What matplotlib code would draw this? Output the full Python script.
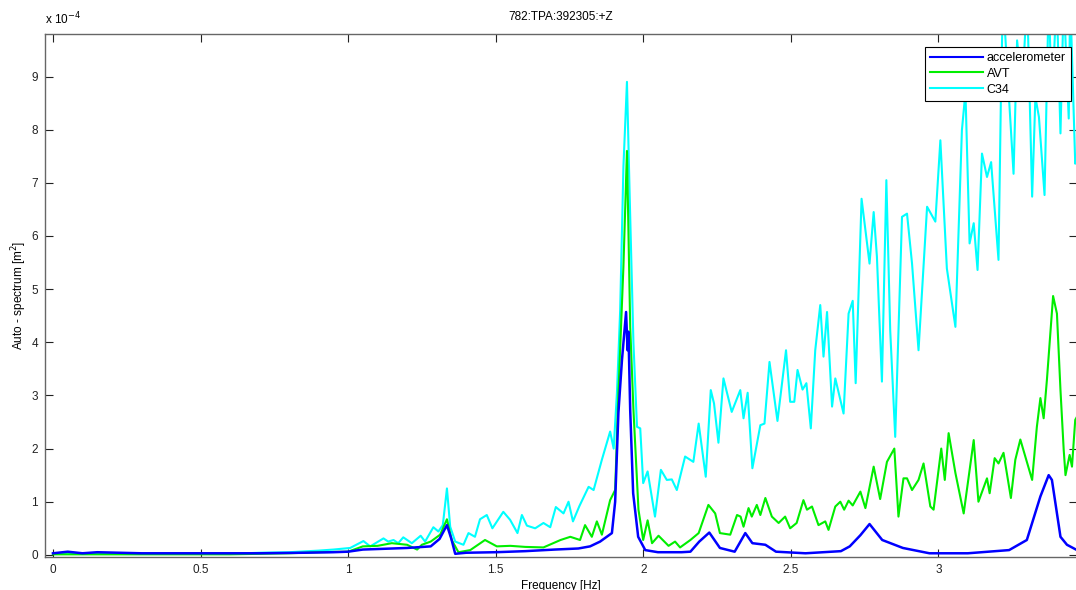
import numpy as np
import matplotlib.pyplot as plt

# values, y in units of 1e-4 m^2
acc_f = [0, 0.05, 0.1, 0.15, 0.3, 0.5, 0.7, 0.85, 0.95, 1.0,
         1.05, 1.1, 1.2, 1.28, 1.31, 1.335, 1.35, 1.363, 1.4, 1.5,
         1.6, 1.7, 1.78, 1.82, 1.854, 1.894, 1.905, 1.916, 1.928, 1.942,
         1.947, 1.95, 1.956, 1.966, 1.983, 2.007, 2.05, 2.13, 2.16, 2.19,
         2.224, 2.26, 2.31, 2.346, 2.37, 2.414, 2.45, 2.55, 2.67, 2.70,
         2.736, 2.767, 2.81, 2.88, 2.97, 3.1, 3.24, 3.30, 3.346, 3.374,
         3.385, 3.414, 3.436, 3.47]
acc_v = [0.03, 0.06, 0.03, 0.05, 0.03, 0.03, 0.03, 0.04, 0.05, 0.06,
         0.10, 0.11, 0.13, 0.16, 0.30, 0.56, 0.30, 0.02, 0.04, 0.05,
         0.07, 0.10, 0.12, 0.16, 0.25, 0.41, 1.0, 2.67, 3.66, 4.57,
         3.85, 4.2, 2.72, 1.16, 0.34, 0.09, 0.05, 0.05, 0.06, 0.25,
         0.42, 0.13, 0.06, 0.41, 0.22, 0.19, 0.06, 0.03, 0.07, 0.16,
         0.37, 0.58, 0.28, 0.13, 0.03, 0.03, 0.09, 0.28, 1.10, 1.50,
         1.41, 0.34, 0.19, 0.09]

avt_f = [0, 0.2, 0.4, 0.6, 0.7, 0.8, 0.9, 1.0, 1.05, 1.1,
         1.148, 1.2, 1.234, 1.25, 1.28, 1.312, 1.335, 1.351, 1.374, 1.414,
         1.464, 1.504, 1.55, 1.6, 1.662, 1.72, 1.753, 1.786, 1.803, 1.826,
         1.843, 1.86, 1.888, 1.905, 1.916, 1.933, 1.945, 1.956, 1.967, 1.984,
         2.0, 2.015, 2.03, 2.052, 2.086, 2.108, 2.125, 2.16, 2.188, 2.221,
         2.244, 2.26, 2.295, 2.318, 2.33, 2.34, 2.357, 2.368, 2.385, 2.397,
         2.414, 2.436, 2.459, 2.481, 2.498, 2.52, 2.543, 2.555, 2.572, 2.594,
         2.617, 2.628, 2.651, 2.668, 2.681, 2.696, 2.71, 2.736, 2.753, 2.781,
         2.803, 2.826, 2.851, 2.865, 2.882, 2.894, 2.911, 2.933, 2.95, 2.973,
         2.984, 3.01, 3.022, 3.035, 3.058, 3.086, 3.12, 3.136, 3.165, 3.174,
         3.191, 3.204, 3.221, 3.246, 3.261, 3.278, 3.318, 3.334, 3.346, 3.357,
         3.368, 3.389, 3.402, 3.414, 3.425, 3.431, 3.445, 3.453, 3.464, 3.47]
avt_v = [0.01, 0.01, 0.01, 0.01, 0.02, 0.03, 0.05, 0.06, 0.16, 0.17,
         0.22, 0.19, 0.10, 0.19, 0.25, 0.38, 0.67, 0.28, 0.05, 0.09,
         0.28, 0.16, 0.17, 0.15, 0.14, 0.28, 0.34, 0.28, 0.56, 0.34,
         0.63, 0.38, 1.03, 1.22, 3.04, 5.42, 7.6, 4.29, 2.73, 0.85,
         0.28, 0.65, 0.22, 0.36, 0.17, 0.25, 0.14, 0.28, 0.41, 0.94,
         0.78, 0.41, 0.38, 0.75, 0.72, 0.53, 0.88, 0.72, 0.94, 0.75,
         1.07, 0.72, 0.60, 0.72, 0.50, 0.60, 1.03, 0.85, 0.91, 0.56,
         0.63, 0.47, 0.91, 1.00, 0.85, 1.02, 0.93, 1.19, 0.88, 1.66,
         1.05, 1.75, 2.00, 0.72, 1.44, 1.44, 1.22, 1.41, 1.72, 0.91,
         0.85, 2.00, 1.41, 2.29, 1.54, 0.78, 2.16, 1.00, 1.44, 1.16,
         1.82, 1.72, 1.92, 1.07, 1.79, 2.17, 1.41, 2.41, 2.95, 2.57,
         3.29, 4.87, 4.54, 3.10, 1.97, 1.50, 1.88, 1.66, 2.54, 2.6]

c34_f = [0, 0.2, 0.4, 0.6, 0.7, 0.8, 0.9, 0.95, 1.007, 1.052,
         1.075, 1.12, 1.136, 1.154, 1.17, 1.187, 1.216, 1.246, 1.261, 1.289,
         1.306, 1.321, 1.335, 1.346, 1.363, 1.391, 1.408, 1.43, 1.447, 1.47,
         1.489, 1.526, 1.549, 1.574, 1.589, 1.606, 1.634, 1.662, 1.685, 1.704,
         1.73, 1.747, 1.762, 1.784, 1.815, 1.832, 1.86, 1.888, 1.9, 1.911,
         1.922, 1.933, 1.945, 1.954, 1.967, 1.979, 1.99, 2.0, 2.015, 2.04,
         2.06, 2.08, 2.097, 2.114, 2.142, 2.17, 2.188, 2.212, 2.229, 2.24,
         2.255, 2.272, 2.3, 2.329, 2.34, 2.354, 2.37, 2.397, 2.411, 2.428,
         2.455, 2.484, 2.498, 2.512, 2.523, 2.54, 2.553, 2.568, 2.583, 2.6,
         2.611, 2.623, 2.64, 2.651, 2.679, 2.696, 2.71, 2.72, 2.74, 2.767,
         2.781, 2.792, 2.809, 2.824, 2.837, 2.854, 2.877, 2.894, 2.911, 2.933,
         2.962, 2.99, 3.007, 3.029, 3.058, 3.08, 3.092, 3.106, 3.12, 3.133,
         3.148, 3.165, 3.179, 3.204, 3.212, 3.219, 3.238, 3.255, 3.267, 3.284,
         3.301, 3.318, 3.329, 3.341, 3.36, 3.374, 3.385, 3.401, 3.414, 3.425,
         3.442, 3.447, 3.464, 3.47]
c34_v = [0.02, 0.02, 0.02, 0.02, 0.04, 0.05, 0.08, 0.10, 0.13, 0.26,
         0.16, 0.31, 0.25, 0.28, 0.22, 0.33, 0.22, 0.36, 0.25, 0.52,
         0.44, 0.56, 1.25, 0.53, 0.25, 0.19, 0.41, 0.34, 0.67, 0.75,
         0.50, 0.81, 0.66, 0.41, 0.75, 0.55, 0.50, 0.60, 0.52, 0.90,
         0.78, 1.00, 0.63, 0.92, 1.28, 1.22, 1.79, 2.32, 2.00, 3.04,
         4.60, 7.30, 8.90, 6.80, 3.98, 2.41, 2.38, 1.35, 1.57, 0.72,
         1.60, 1.41, 1.42, 1.22, 1.85, 1.75, 2.47, 1.47, 3.10, 2.85,
         2.11, 3.32, 2.69, 3.10, 2.57, 3.05, 1.63, 2.44, 2.47, 3.63,
         2.52, 3.85, 2.88, 2.88, 3.48, 3.11, 3.23, 2.38, 3.85, 4.70,
         3.73, 4.57, 2.79, 3.32, 2.66, 4.54, 4.78, 3.23, 6.70, 5.48,
         6.45, 5.61, 3.26, 7.05, 4.23, 2.22, 6.36, 6.42, 5.48, 3.85,
         6.55, 6.27, 7.80, 5.39, 4.29, 7.99, 8.71, 5.86, 6.24, 5.36,
         7.55, 7.11, 7.39, 5.55, 8.55, 10.5, 8.74, 7.17, 9.68, 8.74,
         10.5, 6.74, 8.61, 8.24, 6.77, 10.5, 8.55, 10.5, 7.93, 10.5,
         8.21, 10.5, 7.36, 7.5]

x_ticks = [0, 0.5, 1, 1.5, 2, 2.5, 3]
y_ticks = [0, 1, 2, 3, 4, 5, 6, 7, 8, 9]

plt.rcParams['font.family'] = ['Liberation Sans', 'DejaVu Sans']
plt.rcParams['font.size'] = 8.5

fig = plt.figure(figsize=(10.76, 5.9), dpi=100)
ax = fig.add_axes([45 / 1076, 33 / 590, 1032 / 1076, 523 / 590])

ax.plot(c34_f, c34_v, color='#00ffff', lw=1.5, label='C34', zorder=2)
ax.plot(avt_f, avt_v, color='#00ee00', lw=1.5, label='AVT', zorder=3)
ax.plot(acc_f, acc_v, color='#0000ff', lw=1.8, label='accelerometer', zorder=4)

ax.set_xlim(-0.027, 3.47)
ax.set_ylim(-0.04, 9.8)
ax.set_xticks(x_ticks)
ax.set_xticklabels([f"{t:g}" for t in x_ticks])
ax.set_yticks(y_ticks)
ax.tick_params(direction='in', length=6, width=0.8, top=True, right=True,
               colors='#222222', labelcolor='#222222', pad=5)
for s in ax.spines.values():
    s.set_color('#666666')
    s.set_linewidth(1.0)

ax.set_title('782:TPA:392305:+Z', fontsize=8.5, pad=10)
ax.set_xlabel('Frequency [Hz]', labelpad=3)
ax.set_ylabel('Auto - spectrum [m$^2$]', labelpad=1.5)
ax.text(0.0, 1.012, r'x 10$^{-4}$', transform=ax.transAxes, ha='left', va='bottom')

h, l = ax.get_legend_handles_labels()
leg = ax.legend(h[::-1], l[::-1], loc='upper right', bbox_to_anchor=(1.0, 0.987),
                fancybox=False, edgecolor='black', framealpha=1, handlelength=4.2,
                borderpad=0.4, labelspacing=0.3, handletextpad=0.3, fontsize=9)
leg.get_frame().set_linewidth(0.8)
for line in leg.get_lines():
    line.set_linewidth(1.5)

fig.savefig('out.png', dpi=100)
